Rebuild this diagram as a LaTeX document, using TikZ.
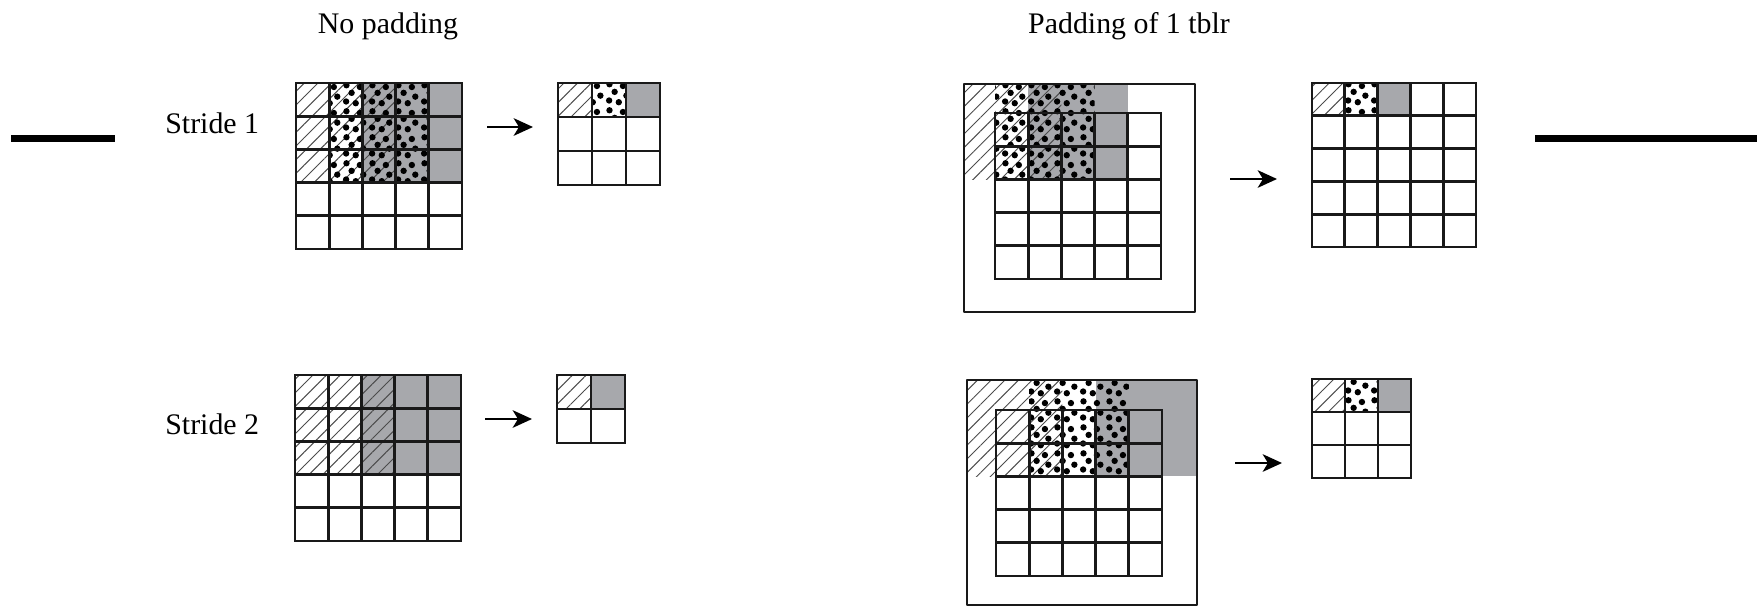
\documentclass[tikz,border=0pt]{standalone}
\usepackage{fontspec}
\setmainfont{Liberation Serif}
\usetikzlibrary{patterns,patterns.meta,arrows.meta}

\definecolor{kgray}{RGB}{167,168,172}

\pgfdeclarepatternformonly{bigdots}{\pgfpointorigin}{\pgfpoint{15pt}{15pt}}{\pgfpoint{15pt}{15pt}}{
	\pgfpathcircle{\pgfpoint{2.4pt}{3.2pt}}{1.85pt}
	\pgfpathcircle{\pgfpoint{8pt}{2.2pt}}{1.85pt}
	\pgfpathcircle{\pgfpoint{12.4pt}{6pt}}{1.85pt}
	\pgfpathcircle{\pgfpoint{5.6pt}{8.2pt}}{1.85pt}
	\pgfpathcircle{\pgfpoint{10.4pt}{11.6pt}}{1.85pt}
	\pgfpathcircle{\pgfpoint{2.6pt}{12.6pt}}{1.85pt}
	\pgfusepath{fill}
}

\tikzset{
	gridln/.style={line width=1.6pt, line cap=rect, draw=black!90},
	hatchfill/.style={pattern={Lines[angle=45, distance=5.5pt, line width=0.55pt]}, pattern color=black!70},
	dotfill/.style={pattern=bigdots, pattern color=black},
	grayfill/.style={fill=kgray},
	lbl/.style={inner sep=0pt, font=\fontsize{17}{20}\selectfont},
	arr/.style={-{Stealth[length=11pt, width=10pt, inset=3pt]}, line width=1.3pt, line cap=butt},
	bar/.style={line width=3.7pt, line cap=butt}
}

\begin{document}
\begin{tikzpicture}[x=0.02cm, y=-0.02cm, line join=round, line cap=round]
	\useasboundingbox (0,0) rectangle (1757,606);
	\def\cellw{33.2}
	\def\cells#1#2#3#4{
		\begin{scope}[shift={(#1,#2)}]
			\foreach \k in {0,...,#3} {
				\draw[gridln] (\k*#4,0) -- (\k*#4,#3*#4);
				\draw[gridln] (0,\k*#4) -- (#3*#4,\k*#4);
			}
		\end{scope}
	}
	
	\node[lbl, anchor=base] (tnopad) at (388,33) {No padding};
	\node[lbl, anchor=base] (tpad) at (1129,33) {Padding of 1 tblr};
	\node[lbl, anchor=base west] (stride1) at (165,133) {Stride 1};
	\node[lbl, anchor=base west] (stride2) at (165,434) {Stride 2};
	
	\coordinate (barl1) at (11,138.5);
	\coordinate (barl2) at (115,138.5);
	\coordinate (barr1) at (1535,138.5);
	\coordinate (barr2) at (1757,138.5);
	\draw[bar] (barl1) -- (barl2);
	\draw[bar] (barr1) -- (barr2);
	
	\begin{scope}[shift={(296,83)}]
		\fill[grayfill] (2*\cellw,0) rectangle (5*\cellw,3*\cellw);
		\fill[hatchfill] (0,0) rectangle (3*\cellw,3*\cellw);
		\fill[dotfill] (\cellw,0) rectangle (4*\cellw,3*\cellw);
	\end{scope}
	\cells{296}{83}{5}{\cellw}
	\fill[hatchfill] (558,83) rectangle (592,117);
	\fill[dotfill] (592,83) rectangle (626,117);
	\fill[grayfill] (626,83) rectangle (660,117);
	\cells{558}{83}{3}{34}
	
	\begin{scope}[shift={(295,375)}]
		\fill[grayfill] (2*\cellw,0) rectangle (5*\cellw,3*\cellw);
		\fill[hatchfill] (0,0) rectangle (3*\cellw,3*\cellw);
	\end{scope}
	\cells{295}{375}{5}{\cellw}
	\fill[hatchfill] (557,375) rectangle (591,409);
	\fill[grayfill] (591,375) rectangle (625,409);
	\cells{557}{375}{2}{34}
	
	\begin{scope}[shift={(995,113)}]
		\fill[grayfill] (\cellw,-29) rectangle (4*\cellw,2*\cellw);
		\fill[hatchfill] (-31,-29) rectangle (2*\cellw,2*\cellw);
		\fill[dotfill] (0,-29) rectangle (3*\cellw,2*\cellw);
	\end{scope}
	\cells{995}{113}{5}{\cellw}
	\draw[gridln] (964,84) rectangle (1195,312);
	\fill[hatchfill] (1312,83) rectangle (1344.8,115.8);
	\fill[dotfill] (1344.8,83) rectangle (1377.6,115.8);
	\fill[grayfill] (1377.6,83) rectangle (1410.4,115.8);
	\cells{1312}{83}{5}{32.8}
	
	\begin{scope}[shift={(996,410)}]
		\fill[grayfill] (3*\cellw,-30) rectangle (201,2*\cellw);
		\fill[hatchfill] (-29,-30) rectangle (2*\cellw,2*\cellw);
		\fill[dotfill] (\cellw,-30) rectangle (4*\cellw,2*\cellw);
	\end{scope}
	\cells{996}{410}{5}{\cellw}
	\draw[gridln] (967,380) rectangle (1197,605);
	\fill[hatchfill] (1312,379) rectangle (1345,412);
	\fill[dotfill] (1345,379) rectangle (1378,412);
	\fill[grayfill] (1378,379) rectangle (1411,412);
	\cells{1312}{379}{3}{33}
	
	\coordinate (a1s) at (487,127);
	\coordinate (a1e) at (533,127);
	\coordinate (a2s) at (485,419);
	\coordinate (a2e) at (532,419);
	\coordinate (a3s) at (1230,179);
	\coordinate (a3e) at (1277,179);
	\coordinate (a4s) at (1235,463);
	\coordinate (a4e) at (1282,463);
	\draw[arr] (a1s) -- (a1e);
	\draw[arr] (a2s) -- (a2e);
	\draw[arr] (a3s) -- (a3e);
	\draw[arr] (a4s) -- (a4e);
\end{tikzpicture}
\end{document}
